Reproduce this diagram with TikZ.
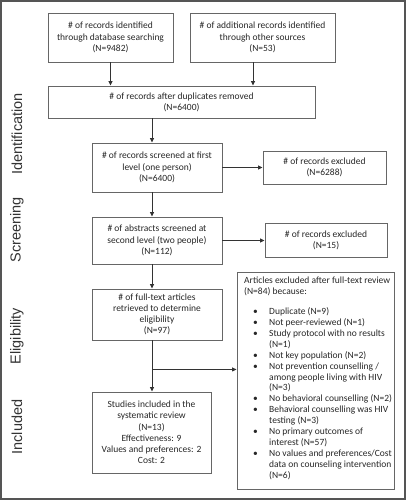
\documentclass[tikz,border=0pt]{standalone}
\usepackage{fontspec}
\setmainfont{Carlito}
\newfontfamily\labelfont{Liberation Sans}
\usetikzlibrary{arrows.meta,calc}
\definecolor{boxgray}{HTML}{666666}
\definecolor{framegray}{HTML}{555555}
\begin{document}
\begin{tikzpicture}[x=1pt,y=-1pt,
  box/.style={draw=boxgray, line width=0.9pt, align=center, inner sep=0pt,
    font=\fontsize{9.5}{11.2}\selectfont, text=black!85},
  conn/.style={line width=0.8pt, draw=black!80, -{Triangle[length=4.5pt,width=4pt]}},
  stage/.style={font=\labelfont\fontsize{14.5}{16}\selectfont, text=black!80, inner sep=0pt}]
\useasboundingbox (0,0) rectangle (406,500);
\draw[framegray, line width=1.5pt] (1,1) rectangle (405,499);

% stage labels
\node[stage] (sid) at (17,134) {\rotatebox{90}{Identification}};
\node[stage] (ssc) at (17,230) {\rotatebox{90}{Screening}};
\node[stage] (sel) at (17,336) {\rotatebox{90}{Eligibility}};
\node[stage] (sin) at (17,427) {\rotatebox{90}{Included}};

% boxes
\node[box, minimum width=125pt, minimum height=49pt] (b1) at (110.5,37.5)
  {\# of records identified\\through database searching\\(N=9482)};
\node[box, minimum width=145pt, minimum height=49pt] (b2) at (262.5,37.5)
  {\# of additional records identified\\through other sources\\(N=53)};
\node[box, minimum width=267pt, minimum height=32pt] (b3) at (181.5,102)
  {\# of records after duplicates removed\\(N=6400)};
\node[box, minimum width=130pt, minimum height=49pt] (b4) at (157,167.5)
  {\# of records screened at first\\level (one person)\\(N=6400)};
\node[box, minimum width=123pt, minimum height=33pt] (e1) at (324.5,167.5)
  {\# of records excluded\\(N=6288)};
\node[box, minimum width=130pt, minimum height=47pt] (b5) at (157,240.5)
  {\# of abstracts screened at\\second level (two people)\\(N=112)};
\node[box, minimum width=122pt, minimum height=34pt] (e2) at (326,240)
  {\# of records excluded\\(N=15)};
\node[box, minimum width=130pt, minimum height=51pt] (b6) at (157,314.5)
  {\# of full-text articles\\retrieved to determine\\eligibility\\(N=97)};
\node[box, minimum width=119pt, minimum height=81pt] (b7) at (151.5,432.5)
  {Studies included in the\\systematic review\\(N=13)\\Effectiveness: 9\\Values and preferences: 2\\Cost: 2};
\node[box, minimum width=157pt, minimum height=217pt] (e3) at (315.5,380.5) {};
\node[anchor=north west, inner sep=0pt, align=left, text=black!85,
  font=\fontsize{9.5}{10.9}\selectfont] (e3t) at (244,277)
  {Articles excluded after full-text review\\
   (N=84) because:\\[9pt]
   \hspace*{9pt}\makebox[16pt][l]{•}Duplicate (N=9)\\
   \hspace*{9pt}\makebox[16pt][l]{•}Not peer-reviewed (N=1)\\
   \hspace*{9pt}\makebox[16pt][l]{•}Study protocol with no results\\
   \hspace*{25pt}(N=1)\\
   \hspace*{9pt}\makebox[16pt][l]{•}Not key population (N=2)\\
   \hspace*{9pt}\makebox[16pt][l]{•}Not prevention counselling /\\
   \hspace*{25pt}among people living with HIV\\
   \hspace*{25pt}(N=3)\\
   \hspace*{9pt}\makebox[16pt][l]{•}No behavioral counselling (N=2)\\
   \hspace*{9pt}\makebox[16pt][l]{•}Behavioral counselling was HIV\\
   \hspace*{25pt}testing (N=3)\\
   \hspace*{9pt}\makebox[16pt][l]{•}No primary outcomes of\\
   \hspace*{25pt}interest (N=57)\\
   \hspace*{9pt}\makebox[16pt][l]{•}No values and preferences/Cost\\
   \hspace*{25pt}data on counseling intervention\\
   \hspace*{25pt}(N=6)};

% connectors
\draw[conn] (b1.south) -- (b1.south |- b3.north);
\coordinate (b2s) at ([xshift=-9.5pt]b2.south);
\draw[conn] (b2s) -- (b2s |- b3.north);
\coordinate (m3) at ([xshift=-29.5pt]b3.south);
\draw[conn] (m3) -- (m3 |- b4.north);
\draw[conn] (b4.east) -- (e1.west |- b4.east);
\coordinate (m4) at ([xshift=-5pt]b4.south);
\draw[conn] (m4) -- (m4 |- b5.north);
\draw[conn] (b5.east) -- (e2.west |- b5.east);
\coordinate (m5) at ([xshift=-5pt]b5.south);
\draw[conn] (m5) -- (m5 |- b6.north);
\coordinate (m6) at ([xshift=-5pt]b6.south);
\draw[conn] (m6) -- (m6 |- b7.north);
\coordinate (br) at ($(m6)+(0,29)$);
\draw[conn] (br) -- (br -| e3.west);
\end{tikzpicture}
\end{document}
